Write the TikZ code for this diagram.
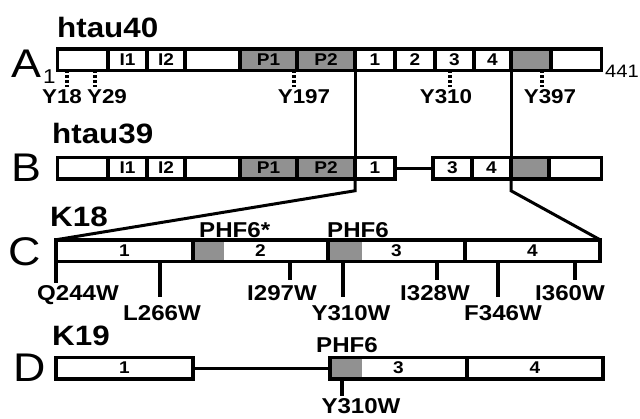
\documentclass[tikz,border=0pt]{standalone}
\usepackage{fontspec}
\setmainfont{Liberation Sans}[FakeStretch=1.12]

\begin{document}
\begin{tikzpicture}[
  x=1pt, y=-1pt,
  seg/.style={draw, line width=3.5pt, inner sep=0pt, outer sep=0pt, minimum height=21.5pt, font=\bfseries\fontsize{17}{17}\selectfont},
  link/.style={line width=3pt},
  mutline/.style={line width=3.5pt},
  site/.style={line width=3.5pt, dash pattern=on 3pt off 2pt},
  title/.style={font=\bfseries\fontsize{28}{28}\selectfont, anchor=base west, inner sep=0pt},
  row/.style={font=\fontsize{40}{40}\selectfont, anchor=base west, inner sep=0pt},
  mut/.style={font=\bfseries\fontsize{21.5}{21.5}\selectfont, anchor=base, inner sep=0pt},
  sitelab/.style={font=\bfseries\fontsize{20}{20}\selectfont, anchor=base, inner sep=0pt}
]
\useasboundingbox (0,0) rectangle (640,418);

% A: htau40
\node[title] (t40) at (57,37) {htau40};
\node[row] (lA) at (11,77) {A};
\node[font=\fontsize{20}{20}\selectfont, anchor=base west, inner sep=0pt] (n1) at (43,83) {1};
\foreach \l/\r/\t/\f [count=\i] in {57.5/108/{}/white, 108/147/I1/white, 147/185/I2/white,
    185/240/{}/white, 240/297/P1/black!43, 297/355/P2/black!43, 355/395/1/white,
    395/435/2/white, 435/474/3/white, 474/511/4/white, 511/551/{}/black!43, 551/601.5/{}/white}
  \node[seg, fill=\f, minimum width={(\r-\l)*1pt}] (A\i) at ({(\l+\r)/2},59.5) {\t};
\node[font=\fontsize{18}{18}\selectfont, anchor=base west, inner sep=0pt] (n441) at (605,77) {441};

\foreach \x/\y/\t in {67/62/Y18, 95/107/Y29, 294/304/Y197, 450/446/Y310, 542/550/Y397} {
  \node[sitelab] (y\t) at (\y,103) {\t};
  \coordinate (s\t) at (\x,87);
  \draw[site] (s\t |- A1.south) -- (s\t);
}

% B: htau39
\node[title] (t39) at (52,143) {htau39};
\node[row] (lB) at (11,181) {B};
\foreach \l/\r/\t/\f [count=\i] in {57.5/108/{}/white, 108/147/I1/white, 147/185/I2/white,
    185/240/{}/white, 240/297/P1/black!43, 297/355/P2/black!43, 355/395/1/white,
    433/472/3/white, 472/511/4/white, 511/549/{}/black!43, 549/601.5/{}/white}
  \node[seg, fill=\f, minimum width={(\r-\l)*1pt}] (B\i) at ({(\l+\r)/2},168) {\t};
\draw[link] (B7.east) -- (B8.west);

\draw[link] (A6.south east) -- (B6.north east);
\draw[link] (A10.south east) -- (B9.north east);

% C: K18
\node[title] (k18) at (50,226) {K18};
\node[row] (lC) at (8,265) {C};
\fill[black!43] (193,239.5) rectangle (224,261.5);
\fill[black!43] (328,239.5) rectangle (362,261.5);
\foreach \l/\r/\t [count=\i] in {56/193/1, 193/328/2, 328/465/3, 465/600/4}
  \node[seg, minimum width={(\r-\l)*1pt}] (C\i) at ({(\l+\r)/2},250.5) {\t};
\node[mut, anchor=base west] (phfs) at (199,237) {PHF6*};
\node[mut, anchor=base west] (phfc) at (327,237) {PHF6};

\draw[link] (B6.south east) -- ++(0,12) -- (C1.north west);
\draw[link] (B9.south east) -- ++(0,12) -- (C4.north east);

\foreach \x/\e/\y/\b/\t in {56/283/78/300/Q244W, 160/297/162/320/L266W, 290/280/282/300/I297W,
    343/297/351/320/Y310W, 437/280/435/300/I328W, 498/297/503/320/F346W, 575/280/570/300/I360W} {
  \node[mut] (m\t) at (\y,\b) {\t};
  \coordinate (e\t) at (\x,\e);
  \draw[mutline] (e\t |- C1.south) -- (e\t);
}

% D: K19
\node[title] (k19) at (52,345) {K19};
\node[row] (lD) at (13,381) {D};
\fill[black!43] (330,356.5) rectangle (362,379.5);
\node[seg, minimum width=137pt] (D1) at (124.5,368) {1};
\node[seg, minimum width=137pt] (D2) at (398.5,368) {3};
\node[seg, minimum width=136pt] (D3) at (535,368) {4};
\draw[link] (D1.east) -- (D2.west);
\node[mut, anchor=base west] (phfd) at (316,352) {PHF6};
\node[mut] (mD) at (361,413) {Y310W};
\coordinate (eD) at (342,396);
\draw[mutline] (eD |- D2.south) -- (eD);

\end{tikzpicture}
\end{document}
